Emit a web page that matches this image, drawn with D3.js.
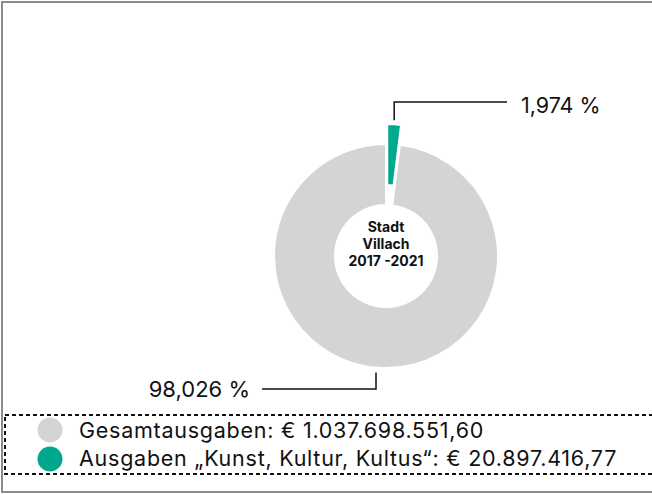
<!DOCTYPE html>
<html>
<head>
<meta charset="utf-8">
<script src="https://cdn.jsdelivr.net/npm/d3@7"></script>
<style>
  html, body { margin: 0; padding: 0; background: #fff; }
  svg { display: block; font-family: Inter, "Noto Sans", sans-serif; }
</style>
</head>
<body>
<svg id="chart" width="652" height="494"></svg>
<script>
const categories = ["Ausgaben „Kunst, Kultur, Kultus“", "Gesamtausgaben"];
const values = [20897416.77, 1037698551.60];
const percentLabels = ["1,974 %", "98,026 %"];
const legendLabels = ["Gesamtausgaben: € 1.037.698.551,60", "Ausgaben „Kunst, Kultur, Kultus“: € 20.897.416,77"];
const legendColors = ["#d4d4d4", "#00a98d"];
const centerLines = ["Stadt", "Villach", "2017 -2021"];

const colors = d3.scaleOrdinal().domain(categories).range(["#00a98d", "#d4d4d4"]);

const svg = d3.select("#chart");

// outer frame
svg.append("rect")
  .attr("x", 2).attr("y", 2).attr("width", 700).attr("height", 490)
  .attr("fill", "none").attr("stroke", "#8c8c8c").attr("stroke-width", 2);

const cx = 386, cy = 256, rOuter = 112, rInner = 51, explode = 20;

const pie = d3.pie().sort(null).value(d => d.value)
  .startAngle(0).endAngle(2 * Math.PI);
const arcs = pie(categories.map((c, i) => ({ name: c, value: values[i] })));
const arc = d3.arc().innerRadius(rInner).outerRadius(rOuter);

const g = svg.append("g").attr("transform", `translate(${cx},${cy})`);
g.selectAll("path").data(arcs).join("path")
  .attr("d", arc)
  .attr("fill", d => colors(d.data.name))
  .attr("stroke", "#fff").attr("stroke-width", 2)
  .attr("transform", (d, i) => {
    if (i !== 0) return null;
    const a = (d.startAngle + d.endAngle) / 2;
    return `translate(${Math.sin(a) * explode},${-Math.cos(a) * explode})`;
  });

// center text
const ct = g.append("text").attr("text-anchor", "middle")
  .attr("font-weight", 700).attr("font-size", 14).attr("fill", "#111");
centerLines.forEach((t, i) => {
  ct.append("tspan").attr("x", 0).attr("y", -24 + i * 17).text(t);
});

// leader lines
const line = d3.line();
const aTop = (arcs[0].startAngle + arcs[0].endAngle) / 2;
const topStartX = cx + Math.sin(aTop) * (rOuter + explode);
const topStartY = cy - Math.cos(aTop) * (rOuter + explode + 4);
svg.append("path")
  .attr("d", line([[topStartX, topStartY], [topStartX, 102], [507, 102]]))
  .attr("fill", "none").attr("stroke", "#111").attr("stroke-width", 1.5);
svg.append("text").attr("x", 521).attr("y", 113)
  .attr("font-size", 21.5).attr("fill", "#111").text(percentLabels[0]);

const botX = 376;
const botY = cy + Math.sqrt(rOuter * rOuter - (botX - cx) * (botX - cx)) + 5;
svg.append("path")
  .attr("d", line([[botX, botY], [botX, 389], [262, 389]]))
  .attr("fill", "none").attr("stroke", "#111").attr("stroke-width", 1.5);
svg.append("text").attr("x", 250).attr("y", 397).attr("text-anchor", "end")
  .attr("font-size", 22).attr("fill", "#111").text(percentLabels[1]);

// legend box
svg.append("rect")
  .attr("x", 5).attr("y", 415).attr("width", 700).attr("height", 59)
  .attr("fill", "none").attr("stroke", "#111").attr("stroke-width", 2)
  .attr("stroke-dasharray", "4,3");

const lg = svg.append("g");
legendLabels.forEach((t, i) => {
  const y = 430 + i * 29;
  lg.append("circle").attr("cx", 50).attr("cy", y).attr("r", 12.5).attr("fill", legendColors[i]);
  lg.append("text").attr("x", 79).attr("y", y + 8 - i)
    .attr("font-size", 21.5).attr("letter-spacing", 0.75).attr("fill", "#111").text(t);
});
</script>
</body>
</html>
